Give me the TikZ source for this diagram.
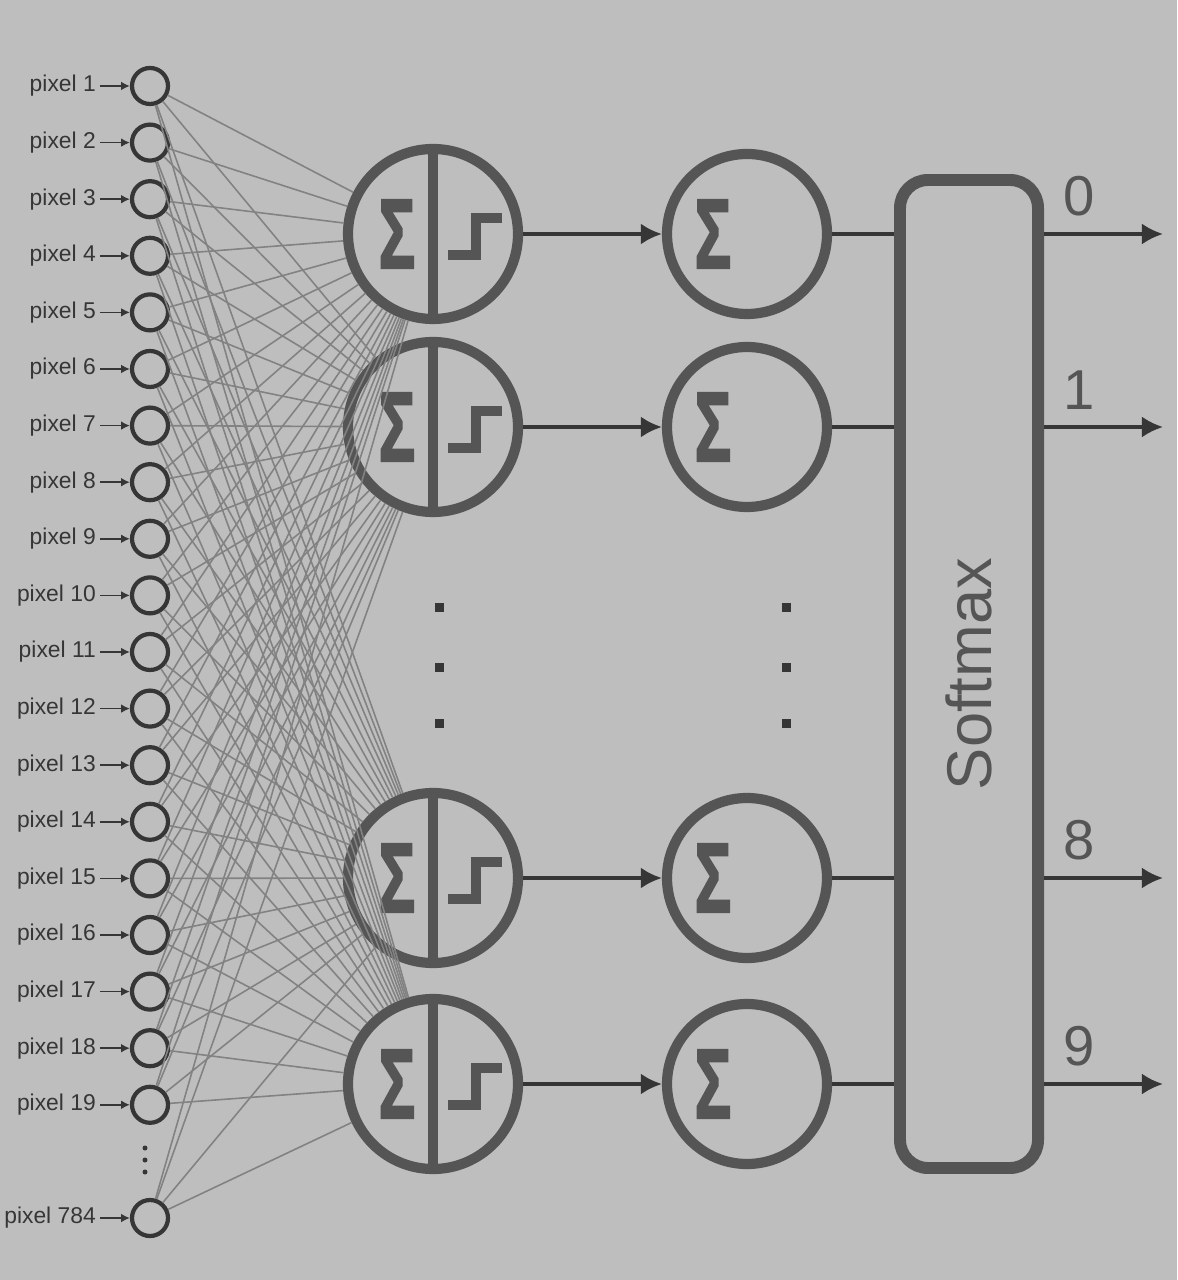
\documentclass[tikz,border=0pt]{standalone}
\usepackage{fontspec}
\setmainfont{Liberation Sans}
\newfontfamily\sigfont[FakeBold=2.5]{Liberation Sans}
\usetikzlibrary{arrows.meta, calc}
\definecolor{PAPER}{HTML}{BEBEBE}
\definecolor{INK}{HTML}{555555}
\definecolor{WIRE}{HTML}{828282}
\definecolor{DARK}{HTML}{363636}

\begin{document}
\begin{tikzpicture}[
    inp/.style={circle, draw=DARK, line width=1.2pt, minimum size=0.36cm, inner sep=0pt},
    unit/.style={circle, draw=INK, line width=2.9pt, inner sep=0pt},
    sig/.style={INK, inner sep=0pt, font=\sigfont\fontsize{28}{28}\selectfont\bfseries},
    lab/.style={DARK, inner sep=1pt, anchor=east, font=\fontsize{6.5}{7}\selectfont},
    wire/.style={WIRE, line width=0.45pt},
    conn/.style={DARK, line width=1pt, -{Latex[length=6pt,width=6pt]}},
    digit/.style={INK, inner sep=0pt, font=\fontsize{16}{16}\selectfont}
]
    \useasboundingbox (0,0) rectangle (11.77,-12.80);
    \fill[PAPER] (0,0) rectangle (11.77,-12.80);

    % input pixels
    \foreach \i in {1,...,19} {
        \node[inp] (in\i) at (1.50,{-0.86-(\i-1)*0.566}) {};
        \node[lab] (lab\i) at (1.00,{-0.86-(\i-1)*0.566}) {pixel \i};
        \draw[DARK, line width=0.5pt, -{Latex[length=2.5pt,width=2.5pt]}] (lab\i.east) -- (in\i.west);
    }
    \node[inp] (in20) at (1.50,-12.18) {};
    \node[lab] (lab20) at (1.00,-12.18) {pixel 784};
    \draw[DARK, line width=0.5pt, -{Latex[length=2.5pt,width=2.5pt]}] (lab20.east) -- (in20.west);
    \foreach \y in {-11.48,-11.60,-11.72}
        \fill[DARK] (1.45,\y) circle (0.025);

    % hidden and output units
    \foreach \n/\y in {1/-2.34, 2/-4.27, 3/-8.78, 4/-10.84} {
        \node[unit, minimum size=1.70cm] (h\n) at (4.33,\y) {};
        \draw[INK, line width=2.9pt] (h\n.north) -- (h\n.south);
        \node[sig] (hs\n) at ({4.33-0.36},\y) {\scalebox{0.62}[1]{Σ}};
        \draw[INK, line width=2.6pt] ({4.33+0.15},{\y-0.21}) -- ++(0.28,0) -- ++(0,0.37) -- ++(0.26,0);
        \node[unit, minimum size=1.60cm] (o\n) at (7.47,\y) {};
        \node[sig] (os\n) at ({7.47-0.34},\y) {\scalebox{0.62}[1]{Σ}};
        \draw[conn] (h\n) -- (o\n);
    }
    \foreach \y in {-6.03,-6.63,-7.19} {
        \fill[DARK] (4.35,\y) rectangle ++(0.09,-0.09);
        \fill[DARK] (7.82,\y) rectangle ++(0.09,-0.09);
    }

    % fully connected inputs
    \foreach \i in {1,...,20}
        \foreach \j in {1,...,4}
            \draw[wire] (in\i) -- (h\j);

    % softmax block
    \node[draw=INK, line width=3.4pt, rounded corners=0.28cm, minimum width=1.38cm, minimum height=9.88cm, inner sep=0pt] (soft) at (9.69,-6.74) {};
    \node[INK, rotate=90, font=\fontsize{18}{18}\selectfont] (softlab) at (soft.center) {Softmax};
    \foreach \n/\d in {1/0, 2/1, 3/8, 4/9} {
        \draw[DARK, line width=1pt] (o\n) -- (o\n -| soft.west);
        \coordinate (out\n) at (11.63,0 |- o\n);
        \draw[conn] (o\n -| soft.east) -- (out\n);
        \node[digit, anchor=south] (d\n) at ($(o\n -| soft.east)+(0.35,0.17)$) {\d};
    }
\end{tikzpicture}
\end{document}
